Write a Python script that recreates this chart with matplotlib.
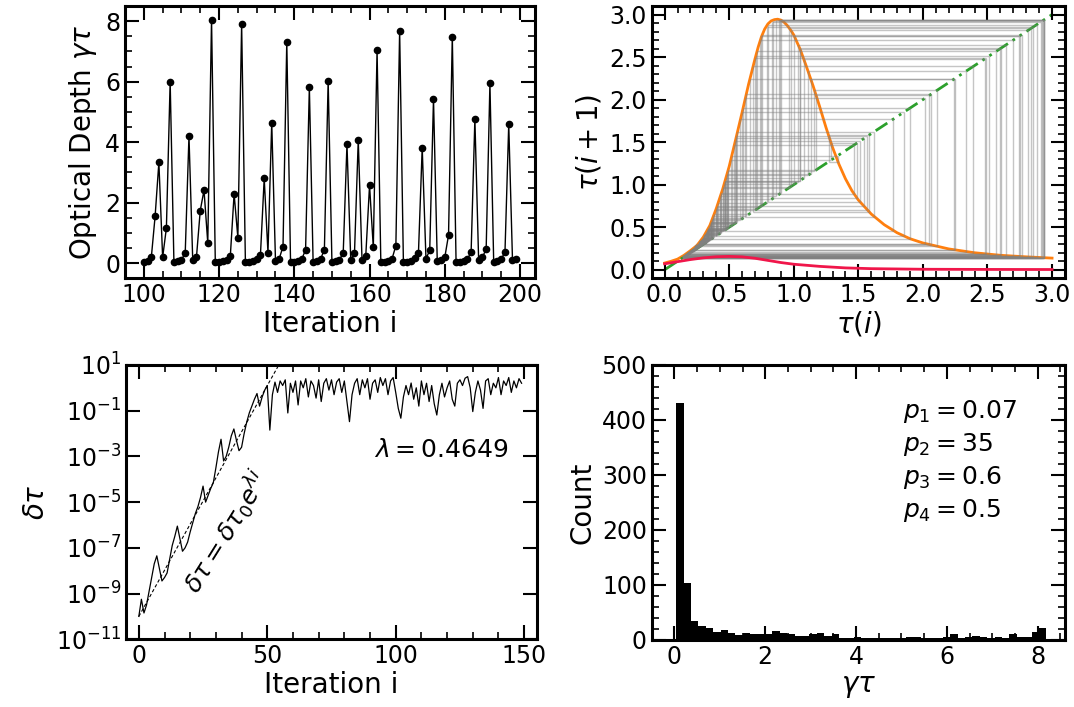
import matplotlib
matplotlib.use('Agg')
import matplotlib.pyplot as plt
import numpy as np
from matplotlib.ticker import AutoMinorLocator, NullLocator, FixedLocator

### Optical depth time series (top left), iterations 100..199
gamma_tau = [0.05, 0.08, 0.2, 1.55, 3.33, 0.19, 1.16, 6.0, 0.03, 0.06,
             0.12, 0.32, 4.2, 0.1, 0.21, 1.74, 2.41, 0.67, 8.05, 0.03,
             0.04, 0.07, 0.12, 0.25, 2.29, 0.84, 7.9, 0.03, 0.04, 0.07,
             0.13, 0.27, 2.8, 0.35, 4.64, 0.07, 0.15, 0.55, 7.32, 0.03,
             0.04, 0.07, 0.14, 0.44, 5.81, 0.04, 0.08, 0.14, 0.45, 6.03,
             0.04, 0.07, 0.12, 0.33, 3.93, 0.12, 0.33, 4.07, 0.11, 0.25,
             2.57, 0.52, 7.04, 0.03, 0.04, 0.08, 0.15, 0.58, 7.67, 0.03,
             0.04, 0.08, 0.16, 0.33, 3.82, 0.14, 0.43, 5.43, 0.06, 0.1,
             0.19, 0.93, 7.49, 0.03, 0.04, 0.07, 0.14, 0.36, 4.76, 0.1,
             0.2, 0.46, 5.94, 0.04, 0.07, 0.14, 0.36, 4.59, 0.1, 0.15]
iter_start = 100

### Map curves (top right)
tau_curve = [0.0, 0.05, 0.1, 0.15, 0.2, 0.25, 0.3, 0.35, 0.4, 0.45, 0.5, 0.55,
             0.6, 0.65, 0.7, 0.725, 0.75, 0.775, 0.8, 0.825, 0.85, 0.875, 0.9,
             0.925, 0.95, 0.975, 1.0, 1.05, 1.1, 1.15, 1.2, 1.25, 1.3, 1.35,
             1.4, 1.45, 1.5, 1.6, 1.7, 1.8, 1.9, 2.0, 2.2, 2.4, 2.6, 2.8, 3.0]
tau_next = [0.079, 0.10, 0.125, 0.17, 0.225, 0.285, 0.385, 0.52, 0.72, 0.95,
            1.215, 1.53, 1.85, 2.18, 2.48, 2.62, 2.74, 2.83, 2.89, 2.925,
            2.94, 2.945, 2.935, 2.91, 2.87, 2.82, 2.76, 2.59, 2.38, 2.16,
            1.92, 1.67, 1.44, 1.24, 1.07, 0.93, 0.82, 0.655, 0.53, 0.435,
            0.365, 0.315, 0.245, 0.2, 0.17, 0.152, 0.137]
tau_red = [0.0, 0.1, 0.2, 0.3, 0.4, 0.5, 0.6, 0.7, 0.8, 0.9, 1.0, 1.2, 1.4,
           1.6, 2.0, 2.5, 3.0]
red_next = [0.07, 0.095, 0.12, 0.14, 0.153, 0.157, 0.152, 0.135, 0.11, 0.085,
            0.065, 0.04, 0.022, 0.013, 0.006, 0.004, 0.003]

### Orbit used for the cobweb
orbit = [2.93, 0.142, 0.163, 0.184, 0.207, 0.233, 0.265, 0.315, 0.425, 0.835, 2.915,
         0.145, 0.166, 0.187, 0.211, 0.238, 0.276, 0.337, 0.468, 1.045, 2.607,
         0.169, 0.191, 0.214, 0.242, 0.275, 0.335, 0.48, 1.11, 2.336,
         0.213, 0.241, 0.274, 0.333, 0.474, 1.077, 2.477,
         0.187, 0.209, 0.236, 0.27, 0.325, 0.4525, 0.963, 2.84,
         0.149, 0.175, 0.1975, 0.222, 0.251, 0.287, 0.358, 0.552, 1.543, 0.747, 2.744,
         0.157, 0.178, 0.2, 0.225, 0.255, 0.295, 0.372, 0.608, 1.903, 0.359, 0.556,
         1.568, 0.704, 2.51,
         0.183, 0.206, 0.232, 0.263, 0.311, 0.415, 0.789, 2.854,
         0.148, 0.16, 0.181, 0.203, 0.229, 0.26, 0.305, 0.3985, 0.714, 2.566,
         0.175, 0.1975, 0.23, 0.261, 0.307, 0.404, 0.738, 2.695,
         0.161, 0.182, 0.204, 0.23, 0.245, 0.279, 0.343, 0.492, 1.173, 2.05,
         0.2975, 0.378, 0.632, 2.061, 0.294, 0.37, 0.6, 1.85, 0.395, 0.7, 2.49,
         0.185, 0.2085, 0.235, 0.267, 0.319, 0.436, 0.886, 2.94,
         0.141, 0.162, 0.183, 0.206, 0.232, 0.2825, 0.35, 0.52, 1.34, 1.27, 1.58,
         0.684, 2.39,
         0.2, 0.225, 0.255, 0.285, 0.355, 0.54, 1.467, 0.896, 2.935,
         0.141, 0.17, 0.192, 0.215, 0.243, 0.281, 0.347, 0.511, 1.287, 1.49, 0.843, 2.923,
         0.142, 0.163, 0.184, 0.207, 0.233, 0.265, 0.2865, 0.357, 0.547, 1.51, 0.8, 2.88,
         0.146, 0.166, 0.187, 0.211, 0.238, 0.288, 0.361, 0.564, 1.62, 0.626, 2.02,
         0.308, 0.407, 0.752, 2.765,
         0.1555, 0.176, 0.198, 0.223, 0.252, 0.291, 0.367, 0.5875, 1.77, 0.46, 1.003, 2.75,
         0.1565, 0.177, 0.199, 0.224, 0.254, 0.277, 0.339, 0.49, 1.16, 2.11, 0.276,
         0.337, 0.484, 1.13, 2.248,
         0.234, 0.266, 0.317, 0.431, 0.863, 2.936,
         0.141, 0.162, 0.183, 0.206, 0.232, 0.263, 0.33, 0.466, 1.035, 2.641,
         0.166, 0.187, 0.211, 0.238, 0.276, 0.337, 0.4685, 1.048, 2.597,
         0.169, 0.191, 0.214, 0.242, 0.3, 0.385, 0.66, 2.24, 0.236, 0.27, 0.325,
         0.455, 0.975, 2.815,
         0.151, 0.171, 0.193, 0.217, 0.245, 0.279, 0.32, 0.439, 0.899, 2.935]

### Separation of two trajectories (bottom left), log10 values, i = 0..149
dtau_log10 = [-10.0, -9.25, -9.85, -9.5, -8.9, -8.3, -7.7, -7.35, -7.9, -8.45,
              -8.3, -8.1, -7.5, -6.9, -6.5, -6.05, -6.6, -7.15, -7.0, -6.75,
              -6.3, -5.9, -5.5, -5.2, -4.8, -4.3, -5.0, -4.7, -4.4, -4.15,
              -3.5, -2.8, -2.25, -3.2, -3.0, -2.6, -2.1, -1.8, -2.3, -2.75,
              -2.6, -2.0, -1.5, -1.1, -0.8, -0.5, -0.25, -0.8, -0.4, -0.1,
              0.1, -1.85, -0.3, 0.25, -0.2, 0.3, 0.1, 0.35, -1.1, 0.2,
              -0.2, 0.3, -0.75, 0.3, 0.0, 0.4, -0.4, 0.3, 0.1, -0.45,
              0.35, -0.6, 0.2, 0.4, -0.1, 0.35, -0.3, 0.25, 0.4, -0.2,
              0.3, -0.6, -1.48, -0.3, 0.2, 0.4, -0.3, 0.35, 0.0, 0.4,
              -0.5, 0.2, 0.35, -0.2, 0.45, 0.1, 0.4, -0.3, 0.3, 0.45,
              -0.2, -0.9, -1.33, -0.4, 0.1, -0.3, 0.21, -0.5, 0.0, -0.8,
              0.3, -0.3, 0.2, -0.6, 0.1, -0.7, -1.19, -0.3, 0.2, -0.4,
              0.0, 0.3, -0.5, -0.8, 0.2, 0.35, 0.1, 0.42, 0.49, 0.0,
              -1.04, -0.2, 0.3, -0.1, -0.9, 0.3, 0.4, -0.3, 0.2, 0.0,
              0.45, -0.3, 0.3, 0.1, 0.45, -0.2, 0.3, 0.0, 0.4, 0.2]
lam = 0.4649
dtau0 = 1e-10

### Histogram of gamma*tau (bottom right)
hist_lo, hist_hi = 0.04, 8.19
hist_counts = [430, 104, 35, 25, 21, 15, 19, 13, 9, 13,
               11, 11, 11, 17, 12, 11, 7, 7, 10, 12,
               7, 11, 4, 3, 6, 4, 3, 4, 3, 3,
               4, 6, 6, 4, 3, 4, 6, 10, 4, 5,
               8, 5, 4, 5, 4, 10, 5, 6, 14, 21]
params = [('p_1', '0.07'), ('p_2', '35'), ('p_3', '0.6'), ('p_4', '0.5')]

plt.rcParams['font.family'] = 'DejaVu Sans'
plt.rcParams['mathtext.fontset'] = 'dejavusans'
plt.rcParams['font.size'] = 17
plt.rcParams['axes.linewidth'] = 2.2
for ax_ in ['xtick', 'ytick']:
	plt.rcParams[ax_ + '.direction'] = 'in'
	plt.rcParams[ax_ + '.major.size'] = 10
	plt.rcParams[ax_ + '.major.width'] = 1.5
	plt.rcParams[ax_ + '.minor.size'] = 5
	plt.rcParams[ax_ + '.minor.width'] = 1.2
	plt.rcParams[ax_ + '.labelsize'] = 17
plt.rcParams['xtick.top'] = True
plt.rcParams['ytick.right'] = True
plt.rcParams['xtick.minor.visible'] = True
plt.rcParams['ytick.minor.visible'] = True

fig = plt.figure(figsize=(10.74, 7.07), dpi=100)
ax1 = fig.add_axes([0.1164, 0.6064, 0.3818, 0.3851])
ax2 = fig.add_axes([0.6068, 0.6064, 0.3848, 0.3851])
ax3 = fig.add_axes([0.1173, 0.0958, 0.3827, 0.3880])
ax4 = fig.add_axes([0.6068, 0.0948, 0.3848, 0.3890])

### Top left
it = np.arange(iter_start, iter_start + len(gamma_tau))
ax1.plot(it, gamma_tau, 'k-', lw=1.0, marker='o', ms=4.5)
ax1.set_xlim(95, 204)
ax1.set_ylim(-0.5, 8.5)
ax1.set_xticks([100, 120, 140, 160, 180, 200])
ax1.set_yticks([0, 2, 4, 6, 8])
ax1.xaxis.set_minor_locator(AutoMinorLocator(4))
ax1.yaxis.set_minor_locator(AutoMinorLocator(4))
ax1.set_xlabel('Iteration i', fontsize=20, labelpad=2)
ax1.set_ylabel(r'Optical Depth $\gamma\tau$', fontsize=20)

### Top right: map and cobweb
ax2.plot(tau_curve, tau_next, color='#ff7f0e', lw=2, zorder=1)
ax2.plot([0, 3], [0, 3], color='#2ca02c', lw=2, linestyle=(0, (5, 2, 1, 2, 1, 2)), zorder=1)
xo = np.array(orbit)
ax2.vlines(xo[:-1], xo[:-1], xo[1:], color='gray', lw=1, alpha=0.45, zorder=2)
ax2.hlines(xo[1:], xo[:-1], xo[1:], color='gray', lw=1, alpha=0.45, zorder=2)
ax2.plot(tau_red, red_next, color='#f0164a', lw=2, zorder=3)
ax2.set_xlim(-0.1, 3.1)
ax2.set_ylim(-0.1, 3.1)
ax2.set_xticks(np.arange(0, 3.01, 0.5))
ax2.set_yticks(np.arange(0, 3.01, 0.5))
ax2.xaxis.set_minor_locator(AutoMinorLocator(5))
ax2.yaxis.set_minor_locator(AutoMinorLocator(5))
ax2.set_xlabel(r'$\tau(i)$', fontsize=20, labelpad=2)
ax2.set_ylabel(r'$\tau(i+1)$', fontsize=20, labelpad=4)

### Bottom left: divergence
ii = np.arange(len(dtau_log10))
ax3.semilogy(ii, 10.0 ** np.array(dtau_log10), 'k-', lw=0.9)
fit_i = np.array([0, 60])
ax3.semilogy(fit_i, dtau0 * np.exp(lam * fit_i), 'k--', lw=0.8, dashes=(3, 2))
ax3.set_xlim(-5, 155)
ax3.set_ylim(1e-11, 1e1)
ax3.yaxis.set_major_locator(FixedLocator([10.0 ** k for k in range(-11, 2, 2)]))
ax3.yaxis.set_minor_locator(NullLocator())
ax3.set_xticks([0, 50, 100, 150])
ax3.xaxis.set_minor_locator(AutoMinorLocator(5))
ax3.set_xlabel('Iteration i', fontsize=20, labelpad=2)
ax3.set_ylabel(r'$\delta\tau$', fontsize=20)
ax3.text(0.93, 0.69, r'$\lambda = %.4f$' % lam, transform=ax3.transAxes,
	ha='right', va='center', fontsize=18)
ax3.text(34, 10 ** -6.3, r'$\delta\tau = \delta\tau_0 e^{\lambda i}$', rotation=58,
	ha='center', va='center', fontsize=18, rotation_mode='anchor')

### Bottom right: histogram
edges = np.linspace(hist_lo, hist_hi, len(hist_counts) + 1)
centers = 0.5 * (edges[:-1] + edges[1:])
ax4.hist(centers, bins=edges, weights=hist_counts, color='k')
ax4.set_xlim(-0.5, 8.6)
ax4.set_ylim(0, 500)
ax4.set_xticks([0, 2, 4, 6, 8])
ax4.set_yticks([0, 100, 200, 300, 400, 500])
ax4.xaxis.set_minor_locator(AutoMinorLocator(4))
ax4.yaxis.set_minor_locator(AutoMinorLocator(5))
ax4.set_xlabel(r'$\gamma\tau$', fontsize=20, labelpad=2)
ax4.set_ylabel('Count', fontsize=20)
for k, (name, val) in enumerate(params):
	ax4.text(0.608, 0.83 - 0.12 * k, r'$%s = %s$' % (name, val), transform=ax4.transAxes,
		ha='left', va='center', fontsize=18)

fig.savefig('out.png', dpi=100)
